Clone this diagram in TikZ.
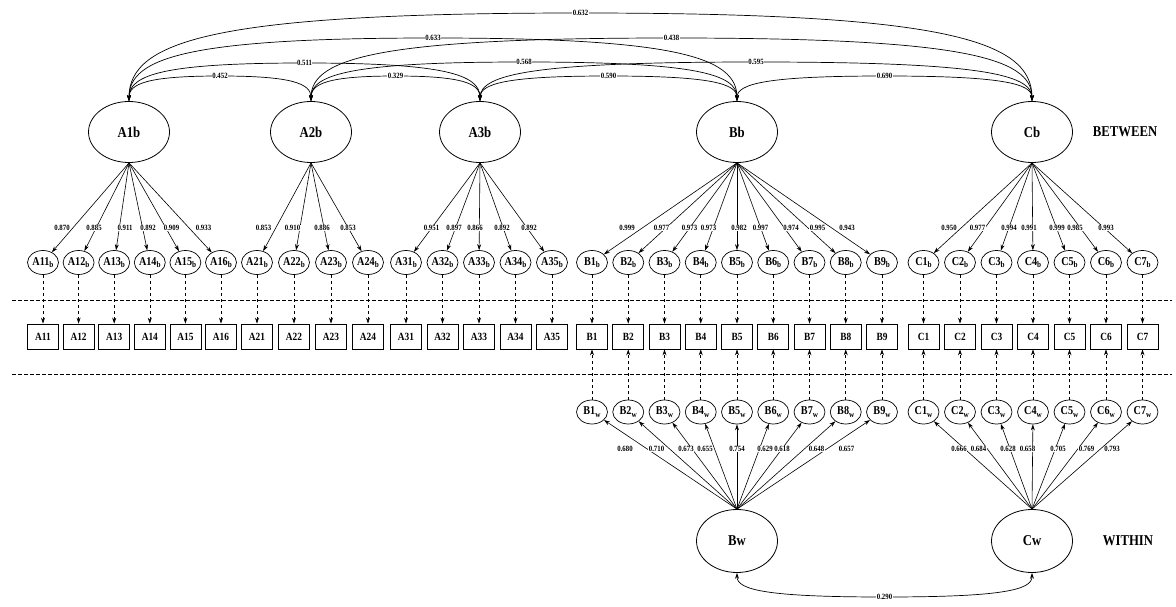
\documentclass[tikz,border=0pt]{standalone}
\usepackage{fontspec}
\setmainfont[FakeStretch=0.85]{Liberation Serif}
\usetikzlibrary{shapes.geometric,arrows.meta}
\newcommand\lsub[1]{\raisebox{-0.45ex}{\fontsize{8.5}{9}\selectfont #1}}
\tikzset{
 fac/.style={ellipse, draw, line width=0.8pt, minimum width=81pt, minimum height=61pt, inner sep=0pt, font=\fontsize{15}{16}\selectfont\bfseries},
 ind/.style={ellipse, draw, line width=0.7pt, minimum width=31pt, minimum height=24pt, inner sep=0pt, font=\fontsize{12}{12}\selectfont\bfseries},
 obs/.style={rectangle, draw, line width=0.7pt, minimum width=31pt, minimum height=25pt, inner sep=0pt, font=\fontsize{11}{12}\selectfont\bfseries},
 lab/.style={fill=white, inner sep=0.5pt, font=\fontsize{8}{9}\selectfont\bfseries},
 load/.style={line width=0.6pt, -{Stealth[length=6pt,width=4pt]}},
 cov/.style={line width=0.7pt, {Stealth[length=6pt,width=4pt]}-{Stealth[length=6pt,width=4pt]}},
 dasharr/.style={line width=0.6pt, dash pattern=on 3pt off 3pt, -{Stealth[length=6pt,width=4pt]}},
 sepline/.style={line width=0.6pt, dash pattern=on 3.5pt off 2.5pt},
 title/.style={font=\fontsize{15}{16}\selectfont\bfseries},
}
\begin{document}
\begin{tikzpicture}[x=1pt,y=-1pt]
\useasboundingbox (0,0) rectangle (1176,607);

% separators
\coordinate (s1a) at (12,300); \coordinate (s1b) at (1172,300);
\coordinate (s2a) at (12,374); \coordinate (s2b) at (1172,374);
\draw[sepline] (s1a) -- (s1b);
\draw[sepline] (s2a) -- (s2b);

% factors
\node[fac] (A1b) at (129,132) {A1b};
\node[fac] (A2b) at (311,132) {A2b};
\node[fac] (A3b) at (480,132) {A3b};
\node[fac] (Bb) at (737,132) {Bb};
\node[fac] (Cb) at (1032,132) {Cb};
\node[fac, minimum height=63pt] (Bw) at (737,541) {Bw};
\node[fac, minimum height=63pt] (Cw) at (1032,541) {Cw};
\node[title] (tbetween) at (1125,132) {BETWEEN};
\node[title] (twithin) at (1128,541) {WITHIN};

% A blocks: name / x / factor / loading / label x
\foreach \n/\x/\f/\v/\lx in {
  11/43/A1b/0.870/62,12/78.6/A1b/0.885/94,13/114.2/A1b/0.911/125,14/149.8/A1b/0.892/148,15/185.4/A1b/0.909/171.5,16/221/A1b/0.933/203.5,
  21/257/A2b/0.853/263.5,22/294/A2b/0.910/292.5,23/331/A2b/0.886/322,24/368/A2b/0.853/348,
  31/406/A3b/0.951/431.5,32/442.5/A3b/0.897/454,33/479/A3b/0.866/475,34/515.5/A3b/0.892/502,35/552/A3b/0.892/529}{
  \node[ind] (A\n b) at (\x,262.5) {A\n\lsub{b}};
  \node[obs] (A\n) at (\x,336.5) {A\n};
  \draw[load] (\f.south) -- (A\n b);
  \draw[dasharr] (A\n b) -- (A\n);
}
\foreach \n/\v/\lx in {11/0.870/62,12/0.885/94,13/0.911/125,14/0.892/148,15/0.909/171.5,16/0.933/203.5,
  21/0.853/263.5,22/0.910/292.5,23/0.886/322,24/0.853/348,
  31/0.951/431.5,32/0.897/454,33/0.866/475,34/0.892/502,35/0.892/529}{
  \node[lab] (lA\n) at (\lx,228) {\v};
}

% B and C blocks: letter / index / x / between loading / label x / within loading / label x
\foreach \c/\n/\x/\v/\lx/\w/\wx in {
  B/1/592/0.999/627/0.680/625,B/2/628.25/0.977/661.5/0.710/656.5,B/3/664.5/0.973/689.5/0.673/686,
  B/4/700.75/0.973/708.5/0.655/705,B/5/737/0.982/739/0.754/737,B/6/773.25/0.997/760.5/0.629/765,
  B/7/809.5/0.974/791/0.618/782,B/8/845.75/0.995/817.5/0.648/816.5,B/9/882/0.943/847/0.657/846.5,
  C/1/923.5/0.950/949/0.666/959,C/2/960/0.977/977.5/0.684/978.5,C/3/996.5/0.994/1009/0.628/1008,
  C/4/1033/0.991/1029/0.658/1027.5,C/5/1069.5/0.999/1057/0.705/1058,C/6/1106/0.985/1075/0.769/1086.5,
  C/7/1142.5/0.993/1106/0.793/1112}{
  \node[ind] (\c\n b) at (\x,262.5) {\c\n\lsub{b}};
  \node[obs] (\c\n) at (\x,336.5) {\c\n};
  \node[ind] (\c\n w) at (\x,412) {\c\n\lsub{w}};
  \draw[load] (\c b.south) -- (\c\n b);
  \draw[load] (\c w.north) -- (\c\n w);
  \draw[dasharr] (\c\n b) -- (\c\n);
  \draw[dasharr] (\c\n w) -- (\c\n);
}
\foreach \c/\n/\v/\lx/\w/\wx in {
  B/1/0.999/627/0.680/625,B/2/0.977/661.5/0.710/656.5,B/3/0.973/689.5/0.673/686,
  B/4/0.973/708.5/0.655/705,B/5/0.982/739/0.754/737,B/6/0.997/760.5/0.629/765,
  B/7/0.974/791/0.618/782,B/8/0.995/817.5/0.648/816.5,B/9/0.943/847/0.657/846.5,
  C/1/0.950/949/0.666/959,C/2/0.977/977.5/0.684/978.5,C/3/0.994/1009/0.628/1008,
  C/4/0.991/1029/0.658/1027.5,C/5/0.999/1057/0.705/1058,C/6/0.985/1075/0.769/1086.5,
  C/7/0.993/1106/0.793/1112}{
  \node[lab] (l\c b\n) at (\lx,228) {\v};
  \node[lab] (l\c w\n) at (\wx,449) {\w};
}

% between covariances
\foreach \a/\b/\xa/\xb/\py in {A1b/A2b/129/311/76,A2b/A3b/311/480/76,A3b/Bb/480/737/76,Bb/Cb/737/1032/76,A1b/A3b/129/480/63,A2b/Bb/311/737/62,A3b/Cb/480/1032/62,A1b/Bb/129/737/38,A2b/Cb/311/1032/38,A1b/Cb/129/1032/13}{
  \pgfmathsetmacro\cxm{(\xa+\xb)/2}
  \pgfmathsetmacro\cya{\py+0.3*(101.5-\py)}
  \pgfmathsetmacro\cxa{\xa+0.1*(\xb-\xa)}
  \pgfmathsetmacro\cxb{\xb-0.1*(\xb-\xa)}
  \draw[cov] (\a.north) .. controls (\xa,\cya) and (\cxa,\py) .. (\cxm,\py) .. controls (\cxb,\py) and (\xb,\cya) .. (\b.north);
}
\foreach \a/\b/\xa/\xb/\py/\l in {A1b/A2b/129/311/76/0.452,A2b/A3b/311/480/76/0.329,A3b/Bb/480/737/76/0.590,Bb/Cb/737/1032/76/0.690,A1b/A3b/129/480/63/0.511,A2b/Bb/311/737/62/0.568,A3b/Cb/480/1032/62/0.595,A1b/Bb/129/737/38/0.633,A2b/Cb/311/1032/38/0.438,A1b/Cb/129/1032/13/0.632}{
  \pgfmathsetmacro\cxm{(\xa+\xb)/2}
  \node[lab] (c\a\b) at (\cxm,\py) {\l};
}

% within covariance
\draw[cov] (Bw.south) .. controls (737,590) and (767,597) .. (884.5,597) .. controls (1002,597) and (1032,590) .. (Cw.south);
\node[lab] (cBwCw) at (884.5,597) {0.290};
\end{tikzpicture}
\end{document}
